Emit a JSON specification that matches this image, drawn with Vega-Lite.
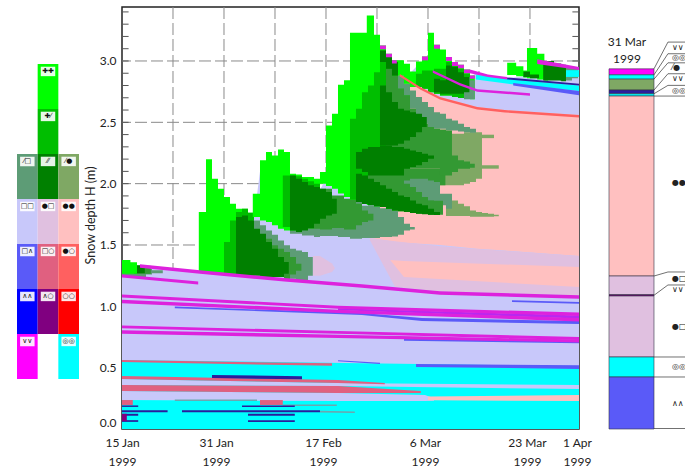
{"$schema":"https://vega.github.io/schema/vega-lite/v6.json","padding":{"left":17,"top":5,"right":0,"bottom":41},"autosize":{"type":"pad"},"bounds":"flush","spacing":0,"background":"white",
"config":{"view":{"stroke":null},"font":"Lato","text":{"font":"Lato"}},
"datasets":{
"band":[
{"s":"b01","c":"FC","d":0,"y":1.345,"v":0},{"s":"b01","c":"FC","d":3,"y":1.328,"v":0},{"s":"b01","c":"FC","d":12.8,"y":1.28,"v":0},{"s":"b01","c":"FC","d":13,"y":1.75,"v":0},{"s":"b01","c":"FC","d":20,"y":1.76,"v":0},{"s":"b01","c":"FC","d":21.5,"y":1.7,"v":0},{"s":"b01","c":"FC","d":22,"y":1.72,"v":0},{"s":"b01","c":"FC","d":23,"y":2.1,"v":0},{"s":"b01","c":"FC","d":27,"y":2.05,"v":0},{"s":"b01","c":"FC","d":33,"y":1.95,"v":0},{"s":"b01","c":"FC","d":38,"y":2.4,"v":0},{"s":"b01","c":"FC","d":45,"y":2.95,"v":0},{"s":"b01","c":"FC","d":48,"y":2.9,"v":0},{"s":"b01","c":"FC","d":49,"y":2.95,"v":0},{"s":"b01","c":"FC","d":58,"y":2.87,"v":0},{"s":"b01","c":"FC","d":59,"y":2.9,"v":0},{"s":"b01","c":"FC","d":64,"y":2.86,"v":0},{"s":"b01","c":"FC","d":66,"y":2.87,"v":0},{"s":"b01","c":"FC","d":76.2,"y":2.93,"v":0},
{"s":"b02","c":"RG","d":41.3,"y":1.557,"v":1.557},{"s":"b02","c":"RG","d":46.3,"y":2.893,"v":1.52},{"s":"b02","c":"RG","d":49.7,"y":2.787,"v":1.51},{"s":"b02","c":"RG","d":53,"y":2.706,"v":1.5},{"s":"b02","c":"RG","d":59.2,"y":2.624,"v":1.47},{"s":"b02","c":"RG","d":63.8,"y":2.6,"v":1.455},{"s":"b02","c":"RG","d":76.2,"y":2.559,"v":1.41},
{"s":"b03","c":"RC","d":41.3,"y":1.557,"v":1.54},{"s":"b03","c":"RC","d":45.5,"y":1.53,"v":1.16},{"s":"b03","c":"RC","d":53,"y":1.49,"v":1.12},{"s":"b03","c":"RC","d":76.2,"y":1.41,"v":1.09},
{"s":"b04","c":"RG","d":44.7,"y":1.377,"v":1.377},{"s":"b04","c":"RG","d":47,"y":1.37,"v":1.24},{"s":"b04","c":"RG","d":76.2,"y":1.32,"v":1.157},
{"s":"b05","c":"RC","d":31.8,"y":1.41,"v":1.25},{"s":"b05","c":"RC","d":33,"y":1.41,"v":1.25},{"s":"b05","c":"RC","d":35,"y":1.35,"v":1.28},{"s":"b05","c":"RC","d":35.5,"y":1.31,"v":1.31},
{"s":"b06","c":"MC","d":0,"y":0.562,"v":0},{"s":"b06","c":"MC","d":76.2,"y":0.513,"v":0},
{"s":"b07","c":"FC","d":0,"y":0.408,"v":0.359},{"s":"b07","c":"FC","d":36,"y":0.375,"v":0.35},{"s":"b07","c":"FC","d":76.2,"y":0.359,"v":0.326},
{"s":"b08","c":"FM","d":0,"y":0.432,"v":0.408},{"s":"b08","c":"FM","d":36,"y":0.399,"v":0.375},{"s":"b08","c":"FM","d":43.8,"y":0.375,"v":0.365},
{"s":"b09","c":"FC","d":0,"y":0.31,"v":0.236},{"s":"b09","c":"FC","d":36,"y":0.293,"v":0.228},{"s":"b09","c":"FC","d":50.5,"y":0.277,"v":0.228},{"s":"b09","c":"FC","d":52,"y":0.25,"v":0.23},
{"s":"b10","c":"FM","d":0,"y":0.359,"v":0.31},{"s":"b10","c":"FM","d":36,"y":0.35,"v":0.293},{"s":"b10","c":"FM","d":49.8,"y":0.31,"v":0.293},
{"s":"b11","c":"RG","d":51,"y":0.265,"v":0.235},{"s":"b11","c":"RG","d":76.2,"y":0.277,"v":0.228}
],
"step":[
{"s":"a1","c":"DC","d":0,"y":1.29,"v":1.24},{"s":"a1","c":"DC","d":2,"y":1.33,"v":1.24},{"s":"a1","c":"DC","d":4,"y":1.305,"v":1.26},{"s":"a1","c":"DC","d":5,"y":1.295,"v":1.27},{"s":"a1","c":"DC","d":6.8,"y":1.295,"v":1.27},
{"s":"a2","c":"D2","d":2,"y":1.33,"v":1.265},{"s":"a2","c":"D2","d":4.8,"y":1.33,"v":1.265},
{"s":"a3","c":"PP","d":0,"y":1.377,"v":1.265},{"s":"a3","c":"PP","d":1.4,"y":1.36,"v":1.265},{"s":"a3","c":"PP","d":2.5,"y":1.345,"v":1.265},
{"s":"a4","c":"DF","d":2.5,"y":1.335,"v":1.27},{"s":"a4","c":"DF","d":3.8,"y":1.335,"v":1.27},
{"s":"e1b","c":"PP","d":12.8,"y":1.768,"v":1.28},{"s":"e1b","c":"PP","d":14,"y":2.198,"v":1.275},{"s":"e1b","c":"PP","d":15,"y":2.04,"v":1.27},{"s":"e1b","c":"PP","d":16,"y":1.959,"v":1.265},{"s":"e1b","c":"PP","d":17,"y":1.891,"v":1.26},{"s":"e1b","c":"PP","d":18,"y":1.836,"v":1.26},{"s":"e1b","c":"PP","d":19,"y":1.796,"v":1.255},{"s":"e1b","c":"PP","d":20,"y":1.796,"v":1.255},{"s":"e1b","c":"PP","d":21,"y":1.763,"v":1.25},{"s":"e1b","c":"PP","d":22,"y":1.7,"v":1.25},
{"s":"e2b","c":"PD","d":17,"y":1.524,"v":1.266},{"s":"e2b","c":"PD","d":18,"y":1.7,"v":1.26},{"s":"e2b","c":"PD","d":19,"y":1.768,"v":1.26},{"s":"e2b","c":"PD","d":20,"y":1.796,"v":1.26},{"s":"e2b","c":"PD","d":21,"y":1.763,"v":1.25},{"s":"e2b","c":"PD","d":22,"y":1.673,"v":1.25},{"s":"e2b","c":"PD","d":23,"y":1.633,"v":1.25},{"s":"e2b","c":"PD","d":24,"y":1.633,"v":1.25},
{"s":"e3b","c":"DC","d":21.8,"y":1.7,"v":1.266},{"s":"e3b","c":"DC","d":23,"y":1.66,"v":1.252},{"s":"e3b","c":"DC","d":24,"y":1.619,"v":1.25},{"s":"e3b","c":"DC","d":25,"y":1.584,"v":1.24},{"s":"e3b","c":"DC","d":26,"y":1.537,"v":1.24},{"s":"e3b","c":"DC","d":27,"y":1.497,"v":1.225},{"s":"e3b","c":"DC","d":28,"y":1.47,"v":1.225},{"s":"e3b","c":"DC","d":29,"y":1.456,"v":1.211},{"s":"e3b","c":"DC","d":30,"y":1.442,"v":1.21},{"s":"e3b","c":"DC","d":31,"y":1.402,"v":1.25},{"s":"e3b","c":"DC","d":31.8,"y":1.402,"v":1.25},
{"s":"e4b","c":"D2","d":23,"y":1.578,"v":1.252},{"s":"e4b","c":"D2","d":24,"y":1.551,"v":1.25},{"s":"e4b","c":"D2","d":25,"y":1.497,"v":1.24},{"s":"e4b","c":"D2","d":26,"y":1.47,"v":1.24},{"s":"e4b","c":"D2","d":27,"y":1.442,"v":1.225},{"s":"e4b","c":"D2","d":28,"y":1.402,"v":1.26},{"s":"e4b","c":"D2","d":29,"y":1.347,"v":1.29},{"s":"e4b","c":"D2","d":29.9,"y":1.347,"v":1.29},
{"s":"e5b","c":"DF","d":19,"y":1.728,"v":1.252},{"s":"e5b","c":"DF","d":20,"y":1.741,"v":1.252},{"s":"e5b","c":"DF","d":21,"y":1.7,"v":1.252},{"s":"e5b","c":"DF","d":22,"y":1.633,"v":1.252},{"s":"e5b","c":"DF","d":23,"y":1.592,"v":1.239},{"s":"e5b","c":"DF","d":24,"y":1.524,"v":1.239},{"s":"e5b","c":"DF","d":25,"y":1.47,"v":1.239},{"s":"e5b","c":"DF","d":26,"y":1.402,"v":1.239},{"s":"e5b","c":"DF","d":27,"y":1.361,"v":1.266},{"s":"e5b","c":"DF","d":27.8,"y":1.361,"v":1.266},
{"s":"f1c","c":"PP","d":21.8,"y":1.918,"v":1.728},{"s":"f1c","c":"PP","d":23,"y":2.19,"v":1.7},{"s":"f1c","c":"PP","d":24,"y":2.258,"v":1.687},{"s":"f1c","c":"PP","d":25,"y":2.23,"v":1.66},{"s":"f1c","c":"PP","d":26,"y":2.279,"v":1.633},{"s":"f1c","c":"PP","d":27,"y":2.258,"v":1.619},{"s":"f1c","c":"PP","d":28,"y":2.081,"v":1.6},{"s":"f1c","c":"PP","d":29,"y":2.075,"v":1.6},{"s":"f1c","c":"PP","d":30,"y":2.054,"v":1.59},{"s":"f1c","c":"PP","d":31,"y":2.054,"v":1.59},{"s":"f1c","c":"PP","d":32,"y":2.04,"v":1.59},{"s":"f1c","c":"PP","d":33,"y":2.04,"v":1.59},
{"s":"f2c","c":"PD","d":26.8,"y":2.067,"v":1.646},{"s":"f2c","c":"PD","d":28,"y":2.067,"v":1.62},{"s":"f2c","c":"PD","d":29,"y":2.06,"v":1.6},{"s":"f2c","c":"PD","d":30,"y":2.04,"v":1.6},{"s":"f2c","c":"PD","d":31,"y":2.02,"v":1.6},{"s":"f2c","c":"PD","d":32,"y":2,"v":1.6},{"s":"f2c","c":"PD","d":33,"y":2,"v":1.6},
{"s":"f3c","c":"DC","d":28,"y":1.619,"v":1.592},{"s":"f3c","c":"DC","d":30,"y":1.633,"v":1.578},{"s":"f3c","c":"DC","d":32,"y":1.66,"v":1.565},{"s":"f3c","c":"DC","d":33,"y":1.7,"v":1.573},{"s":"f3c","c":"DC","d":36,"y":1.8,"v":1.565},{"s":"f3c","c":"DC","d":38,"y":1.85,"v":1.551},{"s":"f3c","c":"DC","d":40,"y":1.82,"v":1.557},{"s":"f3c","c":"DC","d":43,"y":1.8,"v":1.565},{"s":"f3c","c":"DC","d":45,"y":1.78,"v":1.57},{"s":"f3c","c":"DC","d":46,"y":1.728,"v":1.584},{"s":"f3c","c":"DC","d":47,"y":1.673,"v":1.619},{"s":"f3c","c":"DC","d":48,"y":1.646,"v":1.627},{"s":"f3c","c":"DC","d":48.8,"y":1.646,"v":1.627},
{"s":"f4c","c":"D2","d":31,"y":1.972,"v":1.633},{"s":"f4c","c":"D2","d":33,"y":1.959,"v":1.627},{"s":"f4c","c":"D2","d":35,"y":1.904,"v":1.638},{"s":"f4c","c":"D2","d":37,"y":1.877,"v":1.627},{"s":"f4c","c":"D2","d":39,"y":1.836,"v":1.66},{"s":"f4c","c":"D2","d":40,"y":1.782,"v":1.687},{"s":"f4c","c":"D2","d":41,"y":1.755,"v":1.7},{"s":"f4c","c":"D2","d":41.9,"y":1.755,"v":1.7},
{"s":"f5c","c":"DF","d":28,"y":2.067,"v":1.619},{"s":"f5c","c":"DF","d":29,"y":2.04,"v":1.605},{"s":"f5c","c":"DF","d":30,"y":2.013,"v":1.619},{"s":"f5c","c":"DF","d":31,"y":1.986,"v":1.638},{"s":"f5c","c":"DF","d":32,"y":1.972,"v":1.673},{"s":"f5c","c":"DF","d":33,"y":1.959,"v":1.714},{"s":"f5c","c":"DF","d":34,"y":1.931,"v":1.741},{"s":"f5c","c":"DF","d":35,"y":1.877,"v":1.755},{"s":"f5c","c":"DF","d":35.8,"y":1.877,"v":1.755},
{"s":"g1","c":"PP","d":33,"y":2.094,"v":1.999},{"s":"g1","c":"PP","d":34,"y":2.475,"v":1.98},{"s":"g1","c":"PP","d":35,"y":2.57,"v":1.958},{"s":"g1","c":"PP","d":36,"y":2.806,"v":1.92},{"s":"g1","c":"PP","d":37,"y":2.842,"v":1.891},{"s":"g1","c":"PP","d":38,"y":3.23,"v":1.87},{"s":"g1","c":"PP","d":39,"y":3.23,"v":1.85},{"s":"g1","c":"PP","d":40,"y":3.23,"v":1.835},{"s":"g1","c":"PP","d":40.8,"y":3.371,"v":1.825},{"s":"g1","c":"PP","d":42,"y":3.214,"v":1.815},{"s":"g1","c":"PP","d":43,"y":3.127,"v":1.809},{"s":"g1","c":"PP","d":44,"y":3.059,"v":1.795},{"s":"g1","c":"PP","d":45,"y":3.005,"v":1.782},{"s":"g1","c":"PP","d":46,"y":3.005,"v":1.782},
{"s":"g2","c":"PD","d":38,"y":2.529,"v":1.87},{"s":"g2","c":"PD","d":39,"y":2.611,"v":1.85},{"s":"g2","c":"PD","d":40,"y":2.746,"v":1.835},{"s":"g2","c":"PD","d":41,"y":2.8,"v":1.825},{"s":"g2","c":"PD","d":42,"y":2.909,"v":1.815},{"s":"g2","c":"PD","d":43,"y":3.086,"v":1.809},{"s":"g2","c":"PD","d":44,"y":3.05,"v":1.795},{"s":"g2","c":"PD","d":45,"y":2.99,"v":1.782},{"s":"g2","c":"PD","d":46,"y":2.882,"v":1.775},{"s":"g2","c":"PD","d":47,"y":2.814,"v":1.768},{"s":"g2","c":"PD","d":48,"y":2.814,"v":1.768},
{"s":"g3","c":"DR","d":53,"y":2.149,"v":1.986},{"s":"g3","c":"DR","d":54,"y":2.149,"v":1.986},{"s":"g3","c":"DR","d":55,"y":2.407,"v":1.986},{"s":"g3","c":"DR","d":56,"y":2.407,"v":1.986},{"s":"g3","c":"DR","d":57,"y":2.42,"v":1.999},{"s":"g3","c":"DR","d":58,"y":2.42,"v":2.013},{"s":"g3","c":"DR","d":59,"y":2.42,"v":2.04},{"s":"g3","c":"DR","d":60,"y":2.42,"v":2.04},
{"s":"g4","c":"DR","d":59.5,"y":2.399,"v":2.371},{"s":"g4","c":"DR","d":62,"y":2.399,"v":2.371},
{"s":"g5","c":"DR","d":59.5,"y":2.15,"v":2.122},{"s":"g5","c":"DR","d":62.8,"y":2.15,"v":2.122},
{"s":"g6","c":"DR","d":54,"y":1.891,"v":1.736},{"s":"g6","c":"DR","d":55,"y":1.863,"v":1.736},{"s":"g6","c":"DR","d":56,"y":1.836,"v":1.736},{"s":"g6","c":"DR","d":57,"y":1.815,"v":1.736},{"s":"g6","c":"DR","d":58,"y":1.782,"v":1.73},{"s":"g6","c":"DR","d":59,"y":1.768,"v":1.73},{"s":"g6","c":"DR","d":60,"y":1.76,"v":1.73},{"s":"g6","c":"DR","d":61,"y":1.755,"v":1.73},{"s":"g6","c":"DR","d":62,"y":1.746,"v":1.735},{"s":"g6","c":"DR","d":62.8,"y":1.746,"v":1.735},
{"s":"g7","c":"DC","d":46,"y":2.882,"v":2.774},{"s":"g7","c":"DC","d":47,"y":2.814,"v":2.719},{"s":"g7","c":"DC","d":48,"y":2.76,"v":2.611},{"s":"g7","c":"DC","d":49,"y":2.706,"v":2.502},{"s":"g7","c":"DC","d":50,"y":2.665,"v":2.488},{"s":"g7","c":"DC","d":51,"y":2.624,"v":2.461},{"s":"g7","c":"DC","d":52,"y":2.583,"v":2.448},{"s":"g7","c":"DC","d":53,"y":2.57,"v":2.448},{"s":"g7","c":"DC","d":54,"y":2.529,"v":2.434},{"s":"g7","c":"DC","d":55,"y":2.515,"v":2.434},{"s":"g7","c":"DC","d":56,"y":2.488,"v":2.426},{"s":"g7","c":"DC","d":57,"y":2.461,"v":2.42},{"s":"g7","c":"DC","d":58,"y":2.448,"v":2.415},{"s":"g7","c":"DC","d":59,"y":2.448,"v":2.415},
{"s":"g8","c":"D2","d":41,"y":2.094,"v":1.823},{"s":"g8","c":"D2","d":43,"y":2.122,"v":1.809},{"s":"g8","c":"D2","d":45,"y":2.122,"v":1.782},{"s":"g8","c":"D2","d":47,"y":2.122,"v":1.768},{"s":"g8","c":"D2","d":49,"y":2.122,"v":1.755},{"s":"g8","c":"D2","d":51,"y":2.122,"v":1.746},{"s":"g8","c":"D2","d":53,"y":2.1,"v":1.986},{"s":"g8","c":"D2","d":53.9,"y":2.1,"v":1.986},
{"s":"g9","c":"D2","d":44,"y":2.937,"v":2.122},{"s":"g9","c":"D2","d":45,"y":2.882,"v":2.122},{"s":"g9","c":"D2","d":46,"y":2.774,"v":2.122},{"s":"g9","c":"D2","d":47,"y":2.719,"v":2.122},{"s":"g9","c":"D2","d":48,"y":2.611,"v":2.122},{"s":"g9","c":"D2","d":49,"y":2.515,"v":2.122},{"s":"g9","c":"D2","d":50,"y":2.488,"v":2.122},{"s":"g9","c":"D2","d":51,"y":2.461,"v":2.122},{"s":"g9","c":"D2","d":52,"y":2.448,"v":2.122},{"s":"g9","c":"D2","d":53,"y":2.442,"v":2.067},{"s":"g9","c":"D2","d":54,"y":2.434,"v":2.067},{"s":"g9","c":"D2","d":55,"y":2.23,"v":2.094},{"s":"g9","c":"D2","d":56,"y":2.19,"v":2.122},{"s":"g9","c":"D2","d":57,"y":2.18,"v":2.122},{"s":"g9","c":"D2","d":58,"y":2.162,"v":2.13},{"s":"g9","c":"D2","d":58.8,"y":2.162,"v":2.13},
{"s":"h1","c":"DC","d":47,"y":2.026,"v":1.999},{"s":"h1","c":"DC","d":48,"y":2.04,"v":1.972},{"s":"h1","c":"DC","d":49,"y":2.04,"v":1.931},{"s":"h1","c":"DC","d":50,"y":2.04,"v":1.891},{"s":"h1","c":"DC","d":51,"y":2.026,"v":1.863},{"s":"h1","c":"DC","d":52,"y":2.013,"v":1.836},{"s":"h1","c":"DC","d":53,"y":1.918,"v":1.823},{"s":"h1","c":"DC","d":54,"y":1.918,"v":1.795},{"s":"h1","c":"DC","d":55,"y":1.918,"v":1.795},
{"s":"h2","c":"D2","d":51,"y":1.86,"v":1.746},{"s":"h2","c":"D2","d":53.5,"y":1.82,"v":1.741},
{"s":"h3","c":"DF","d":43,"y":2.8,"v":2.312},{"s":"h3","c":"DF","d":44,"y":2.746,"v":2.312},{"s":"h3","c":"DF","d":45,"y":2.665,"v":2.312},{"s":"h3","c":"DF","d":46,"y":2.611,"v":2.325},{"s":"h3","c":"DF","d":47,"y":2.597,"v":2.352},{"s":"h3","c":"DF","d":48,"y":2.583,"v":2.38},{"s":"h3","c":"DF","d":49,"y":2.57,"v":2.42},{"s":"h3","c":"DF","d":50,"y":2.543,"v":2.461},{"s":"h3","c":"DF","d":50.8,"y":2.543,"v":2.461},
{"s":"h4","c":"DF","d":43,"y":3.086,"v":2.991},{"s":"h4","c":"DF","d":44,"y":3.045,"v":2.937},{"s":"h4","c":"DF","d":45,"y":2.991,"v":2.882},{"s":"h4","c":"DF","d":46,"y":2.991,"v":2.882},
{"s":"h5","c":"DF","d":39,"y":2.257,"v":2.122},{"s":"h5","c":"DF","d":40,"y":2.285,"v":2.094},{"s":"h5","c":"DF","d":41,"y":2.298,"v":2.067},{"s":"h5","c":"DF","d":43,"y":2.312,"v":2.067},{"s":"h5","c":"DF","d":45,"y":2.298,"v":2.067},{"s":"h5","c":"DF","d":47,"y":2.285,"v":2.122},{"s":"h5","c":"DF","d":48,"y":2.271,"v":2.135},{"s":"h5","c":"DF","d":49,"y":2.257,"v":2.149},{"s":"h5","c":"DF","d":50,"y":2.244,"v":2.176},{"s":"h5","c":"DF","d":51,"y":2.23,"v":2.203},{"s":"h5","c":"DF","d":52,"y":2.23,"v":2.203},
{"s":"h6","c":"DF","d":39,"y":2.08,"v":1.85},{"s":"h6","c":"DF","d":40,"y":2.067,"v":1.835},{"s":"h6","c":"DF","d":41,"y":2.04,"v":1.823},{"s":"h6","c":"DF","d":42,"y":2.013,"v":1.815},{"s":"h6","c":"DF","d":43,"y":1.986,"v":1.809},{"s":"h6","c":"DF","d":44,"y":1.958,"v":1.795},{"s":"h6","c":"DF","d":45,"y":1.931,"v":1.782},{"s":"h6","c":"DF","d":46,"y":1.904,"v":1.775},{"s":"h6","c":"DF","d":47,"y":1.891,"v":1.768},{"s":"h6","c":"DF","d":48,"y":1.863,"v":1.76},{"s":"h6","c":"DF","d":49,"y":1.836,"v":1.755},{"s":"h6","c":"DF","d":50,"y":1.823,"v":1.75},{"s":"h6","c":"DF","d":51,"y":1.795,"v":1.746},{"s":"h6","c":"DF","d":52,"y":1.768,"v":1.744},{"s":"h6","c":"DF","d":53,"y":1.768,"v":1.744},
{"s":"i1","c":"PP","d":46,"y":3.005,"v":2.882},{"s":"i1","c":"PP","d":47,"y":2.977,"v":2.814},{"s":"i1","c":"PP","d":48,"y":2.915,"v":2.787},{"s":"i1","c":"PP","d":49,"y":2.996,"v":2.787},{"s":"i1","c":"PP","d":50,"y":3.037,"v":2.774},{"s":"i1","c":"PP","d":51,"y":3.23,"v":2.746},{"s":"i1","c":"PP","d":52,"y":3.132,"v":2.733},{"s":"i1","c":"PP","d":53,"y":3.094,"v":2.719},{"s":"i1","c":"PP","d":54,"y":3.032,"v":2.719},{"s":"i1","c":"PP","d":55,"y":2.991,"v":2.706},{"s":"i1","c":"PP","d":56,"y":2.969,"v":2.698},{"s":"i1","c":"PP","d":57,"y":2.931,"v":2.692},{"s":"i1","c":"PP","d":58,"y":2.882,"v":2.687},{"s":"i1","c":"PP","d":58.8,"y":2.882,"v":2.687},
{"s":"i2","c":"PD","d":49,"y":2.896,"v":2.787},{"s":"i2","c":"PD","d":50,"y":2.923,"v":2.774},{"s":"i2","c":"PD","d":51,"y":2.923,"v":2.746},{"s":"i2","c":"PD","d":52,"y":2.937,"v":2.733},{"s":"i2","c":"PD","d":53,"y":2.937,"v":2.719},{"s":"i2","c":"PD","d":54,"y":2.991,"v":2.719},{"s":"i2","c":"PD","d":55,"y":2.964,"v":2.706},{"s":"i2","c":"PD","d":56,"y":2.937,"v":2.698},{"s":"i2","c":"PD","d":57,"y":2.896,"v":2.692},{"s":"i2","c":"PD","d":58,"y":2.896,"v":2.692},
{"s":"i3","c":"DC","d":57,"y":2.869,"v":2.687},{"s":"i3","c":"DC","d":58,"y":2.842,"v":2.687},{"s":"i3","c":"DC","d":58.8,"y":2.842,"v":2.687},
{"s":"i4","c":"DF","d":52,"y":2.855,"v":2.746},{"s":"i4","c":"DF","d":53,"y":2.842,"v":2.733},{"s":"i4","c":"DF","d":54,"y":2.964,"v":2.733},{"s":"i4","c":"DF","d":55,"y":2.95,"v":2.733},{"s":"i4","c":"DF","d":56,"y":2.909,"v":2.733},{"s":"i4","c":"DF","d":57,"y":2.869,"v":2.746},{"s":"i4","c":"DF","d":57.9,"y":2.869,"v":2.746},
{"s":"j1","c":"PP","d":64.2,"y":2.985,"v":2.885},{"s":"j1","c":"PP","d":65.7,"y":2.956,"v":2.875},{"s":"j1","c":"PP","d":66.9,"y":2.923,"v":2.865},{"s":"j1","c":"PP","d":67.5,"y":3.105,"v":2.86},{"s":"j1","c":"PP","d":69.2,"y":3.059,"v":2.85},{"s":"j1","c":"PP","d":70.4,"y":3,"v":2.84},{"s":"j1","c":"PP","d":71,"y":3,"v":2.84},
{"s":"j2","c":"DC","d":73,"y":2.96,"v":2.84},{"s":"j2","c":"DC","d":75,"y":2.94,"v":2.86},{"s":"j2","c":"DC","d":76,"y":2.94,"v":2.86},
{"s":"j3","c":"DF","d":66.9,"y":2.915,"v":2.87},{"s":"j3","c":"DF","d":68,"y":2.89,"v":2.86},{"s":"j3","c":"DF","d":69.5,"y":2.89,"v":2.85},
{"s":"j4","c":"DF","d":70.2,"y":3,"v":2.84},{"s":"j4","c":"DF","d":72,"y":2.98,"v":2.84},{"s":"j4","c":"DF","d":73.2,"y":2.97,"v":2.835},{"s":"j4","c":"DF","d":74,"y":2.97,"v":2.835},
{"s":"k1","c":"SL","d":43,"y":3.127,"v":3.095},{"s":"k1","c":"SL","d":44,"y":3.059,"v":3.03},{"s":"k1","c":"SL","d":45,"y":3.005,"v":2.98},{"s":"k1","c":"SL","d":45.8,"y":3.005,"v":2.98},
{"s":"k2","c":"SL","d":50,"y":3.037,"v":3.005},{"s":"k2","c":"SL","d":51,"y":3.037,"v":3.005},
{"s":"k3","c":"SL","d":52,"y":3.132,"v":3.1},{"s":"k3","c":"SL","d":53,"y":3.132,"v":3.1},
{"s":"k4","c":"SL","d":54,"y":3.032,"v":3},{"s":"k4","c":"SL","d":55,"y":2.991,"v":2.96},{"s":"k4","c":"SL","d":56,"y":2.969,"v":2.94},{"s":"k4","c":"SL","d":57,"y":2.931,"v":2.9},{"s":"k4","c":"SL","d":58,"y":2.882,"v":2.855},{"s":"k4","c":"SL","d":58.8,"y":2.882,"v":2.855},
{"s":"k5","c":"MC","d":74,"y":2.925,"v":2.87},{"s":"k5","c":"MC","d":76.2,"y":2.925,"v":2.87}
],
"line":[
{"s":"l01","c":"RM","d":46.3,"y":2.893,"v":2.873},{"s":"l01","c":"RM","d":49.7,"y":2.787,"v":2.767},{"s":"l01","c":"RM","d":53,"y":2.706,"v":2.686},{"s":"l01","c":"RM","d":59.2,"y":2.624,"v":2.604},{"s":"l01","c":"RM","d":63.8,"y":2.6,"v":2.58},{"s":"l01","c":"RM","d":76.2,"y":2.559,"v":2.539},
{"s":"l02","c":"SL","d":51.8,"y":2.925,"v":2.905},{"s":"l02","c":"SL","d":56.3,"y":2.82,"v":2.8},{"s":"l02","c":"SL","d":59.2,"y":2.77,"v":2.75},{"s":"l02","c":"SL","d":68,"y":2.737,"v":2.717},
{"s":"l03","c":"MC","d":59,"y":2.89,"v":2.85},{"s":"l03","c":"MC","d":65,"y":2.85,"v":2.81},{"s":"l03","c":"MC","d":76.2,"y":2.8,"v":2.755},
{"s":"l04","c":"SL","d":58,"y":2.93,"v":2.9},{"s":"l04","c":"SL","d":61,"y":2.89,"v":2.87},{"s":"l04","c":"SL","d":64.2,"y":2.87,"v":2.85},
{"s":"l05","c":"FH","d":65.2,"y":2.82,"v":2.8},{"s":"l05","c":"FH","d":76.2,"y":2.755,"v":2.72},
{"s":"l06","c":"DK","d":64.2,"y":2.865,"v":2.85},{"s":"l06","c":"DK","d":76.2,"y":2.815,"v":2.8},
{"s":"l07","c":"SL","d":69.2,"y":3.015,"v":2.975},{"s":"l07","c":"SL","d":76.2,"y":2.95,"v":2.926},
{"s":"m01","c":"FH","d":8.8,"y":0.998,"v":0.985},{"s":"m01","c":"FH","d":40,"y":0.945,"v":0.93},{"s":"m01","c":"FH","d":50,"y":0.905,"v":0.88},{"s":"m01","c":"FH","d":76.2,"y":0.88,"v":0.855},
{"s":"m02","c":"SP","d":36,"y":0.985,"v":0.968},{"s":"m02","c":"SP","d":76.2,"y":0.925,"v":0.9},
{"s":"m03","c":"SL","d":0,"y":1.096,"v":1.071},{"s":"m03","c":"SL","d":36,"y":1.004,"v":0.981},{"s":"m03","c":"SL","d":76.2,"y":0.949,"v":0.921},
{"s":"m04","c":"SL","d":0,"y":1.054,"v":1.026},{"s":"m04","c":"SL","d":36,"y":0.972,"v":0.946},{"s":"m04","c":"SL","d":76.2,"y":0.904,"v":0.876},
{"s":"m05","c":"SL","d":3,"y":1.342,"v":1.314},{"s":"m05","c":"SL","d":13,"y":1.294,"v":1.266},{"s":"m05","c":"SL","d":27.5,"y":1.228,"v":1.2},{"s":"m05","c":"SL","d":40,"y":1.179,"v":1.151},{"s":"m05","c":"SL","d":53,"y":1.122,"v":1.094},{"s":"m05","c":"SL","d":76.2,"y":1.09,"v":1.062},
{"s":"m06","c":"SL","d":0,"y":1.259,"v":1.234},{"s":"m06","c":"SL","d":12.7,"y":1.202,"v":1.177},
{"s":"m07","c":"FH","d":65,"y":1.05,"v":1.035},{"s":"m07","c":"FH","d":76.2,"y":1.035,"v":1.02},
{"s":"m08","c":"FH","d":47,"y":0.735,"v":0.72},{"s":"m08","c":"FH","d":76.2,"y":0.72,"v":0.7},
{"s":"m09","c":"SL","d":0,"y":0.844,"v":0.821},{"s":"m09","c":"SL","d":36,"y":0.799,"v":0.776},{"s":"m09","c":"SL","d":76.2,"y":0.749,"v":0.726},
{"s":"m10","c":"SL","d":0,"y":0.804,"v":0.776},{"s":"m10","c":"SL","d":36,"y":0.769,"v":0.741},{"s":"m10","c":"SL","d":76.2,"y":0.729,"v":0.706},
{"s":"m11","c":"FM","d":0,"y":0.562,"v":0.546},{"s":"m11","c":"FM","d":35,"y":0.535,"v":0.515},
{"s":"m12","c":"FH","d":36,"y":0.56,"v":0.552},{"s":"m12","c":"FH","d":43,"y":0.54,"v":0.53},
{"s":"m13","c":"FH","d":49,"y":0.53,"v":0.505},{"s":"m13","c":"FH","d":76.2,"y":0.52,"v":0.49},
{"s":"m14","c":"DK","d":15,"y":0.44,"v":0.415},{"s":"m14","c":"DK","d":30,"y":0.43,"v":0.405},
{"s":"n01","c":"FM","d":0,"y":0.236,"v":0.196},{"s":"n01","c":"FM","d":1.8,"y":0.236,"v":0.196},
{"s":"n02","c":"FM","d":23,"y":0.236,"v":0.196},{"s":"n02","c":"FM","d":26.8,"y":0.236,"v":0.196},
{"s":"n03","c":"GT","d":8.8,"y":0.24,"v":0.228},{"s":"n03","c":"GT","d":22.5,"y":0.24,"v":0.228},
{"s":"n04","c":"GT","d":26.8,"y":0.2,"v":0.188},{"s":"n04","c":"GT","d":35.8,"y":0.2,"v":0.188},
{"s":"n05","c":"DK","d":0,"y":0.192,"v":0.18},{"s":"n05","c":"DK","d":2.7,"y":0.192,"v":0.18},
{"s":"n06","c":"DK","d":20,"y":0.192,"v":0.18},{"s":"n06","c":"DK","d":28.8,"y":0.192,"v":0.18},
{"s":"n07","c":"DK","d":0,"y":0.152,"v":0.136},{"s":"n07","c":"DK","d":7.6,"y":0.152,"v":0.136},
{"s":"n08","c":"DK","d":10,"y":0.152,"v":0.136},{"s":"n08","c":"DK","d":33,"y":0.152,"v":0.136},
{"s":"n09","c":"GT","d":33,"y":0.148,"v":0.134},{"s":"n09","c":"GT","d":38.8,"y":0.142,"v":0.13},
{"s":"n10","c":"DK","d":0,"y":0.124,"v":0.108},{"s":"n10","c":"DK","d":2.7,"y":0.124,"v":0.108},
{"s":"n11","c":"DK","d":21,"y":0.124,"v":0.108},{"s":"n11","c":"DK","d":28.8,"y":0.124,"v":0.108},
{"s":"n12","c":"DK","d":0,"y":0.072,"v":0.058},{"s":"n12","c":"DK","d":2.7,"y":0.072,"v":0.058},
{"s":"n13","c":"DK","d":21,"y":0.072,"v":0.058},{"s":"n13","c":"DK","d":28.8,"y":0.072,"v":0.058},
{"s":"n14","c":"HM","d":0,"y":0.124,"v":0.064},{"s":"n14","c":"HM","d":0.8,"y":0.124,"v":0.064}
],
"ticks":[{"y":2.5},{"y":2.6},{"y":2.7},{"y":2.8},{"y":2.9},{"y":3},{"y":3.1},{"y":3.2},{"y":3.3},{"y":3.4},{"y":2.4},{"y":2.3},{"y":2.2},{"y":2.1},{"y":2},{"y":1.9},{"y":1.8},{"y":1.7},{"y":1.6},{"y":1.5}]
},
"hconcat":[
{"width":62,"height":422,"data":{"values":[
{"c":"PP","a":1,"b":0,"t":"✚✚"},{"c":"PD","a":1,"b":1,"t":"✚⁄"},
{"c":"DC","a":0,"b":2,"t":"⁄□"},{"c":"DF","a":1,"b":2,"t":"⁄⁄"},{"c":"DR","a":2,"b":2,"t":"⁄●"},
{"c":"FC","a":0,"b":3,"t":"□□"},{"c":"RC","a":1,"b":3,"t":"●□"},{"c":"RG","a":2,"b":3,"t":"●●"},
{"c":"FH","a":0,"b":4,"t":"□∧"},{"c":"FM","a":1,"b":4,"t":"□○"},{"c":"RM","a":2,"b":4,"t":"●○"},
{"c":"DH","a":0,"b":5,"t":"∧∧"},{"c":"HM","a":1,"b":5,"t":"∧○"},{"c":"MM","a":2,"b":5,"t":"○○"},
{"c":"SH","a":0,"b":6,"t":"∨∨"},{"c":"MC","a":2,"b":6,"t":"◎◎"}]},
"transform":[{"calculate":"datum.a+1","as":"a2"},{"calculate":"datum.b+1","as":"b2"},{"calculate":"datum.a+0.15","as":"p0"},{"calculate":"datum.a+0.85","as":"p1"},{"calculate":"datum.b+0.06","as":"q0"},{"calculate":"datum.b+0.27","as":"q1"},{"calculate":"datum.a+0.5","as":"pm"},{"calculate":"datum.b+0.165","as":"qm"}],
"layer":[
{"mark":{"type":"rect"},"encoding":{"x":{"field":"a","type":"quantitative","scale":{"domain":[0,3]},"axis":null},"x2":{"field":"a2"},"y":{"field":"b","type":"quantitative","scale":{"domain":[8.111,-1.267],"nice":false,"zero":false},"axis":null},"y2":{"field":"b2"},"color":{"field":"c","type":"nominal","legend":null,"scale":{"domain":["PP","PD","DC","DF","DR","FC","RC","RG","FH","FM","RM","DH","HM","MM","SH","MC","D2","SL","SP","DK","GT"],"range":["#00FF00","#00BE00","#5D9C76","#008000","#7FA864","#C8C8FA","#E0C0E0","#FFC0C0","#5A5AF8","#E06080","#FF6060","#0000FF","#800080","#FF0000","#FF00FF","#00FFFF","#339933","#DD22DD","#B828F0","#2A1E9C","#6AA8B0"]}}}},
{"mark":{"type":"rect","color":"white","opacity":0.9},"encoding":{"x":{"field":"p0","type":"quantitative","axis":null},"x2":{"field":"p1"},"y":{"field":"q0","type":"quantitative","axis":null},"y2":{"field":"q1"}}},
{"mark":{"type":"text","font":"DejaVu Sans","fontSize":7,"color":"#111"},"encoding":{"x":{"field":"pm","type":"quantitative","axis":null},"y":{"field":"qm","type":"quantitative","axis":null},"text":{"field":"t"}}}
]},
{"width":43,"height":422,"mark":{"type":"rule","opacity":0},"encoding":{}},
{"width":457,"height":422,"view":{"stroke":"#222","strokeWidth":1.5},
"resolve":{"axis":{"x":"independent","y":"independent"}},
"layer":[
{"data":{"values":[{"g":8.5},{"g":17},{"g":25.5},{"g":34},{"g":42.5},{"g":51},{"g":59.5},{"g":68}]},"mark":{"type":"rule","color":"#8a8a8a","strokeDash":[12,4],"strokeWidth":1},"encoding":{"x":{"field":"g","type":"quantitative","scale":{"domain":[0,76.17],"nice":false,"zero":false},"axis":null}}},
{"data":{"values":[{"h":0.5},{"h":1},{"h":1.5},{"h":2},{"h":2.5},{"h":3}]},"mark":{"type":"rule","color":"#8a8a8a","strokeDash":[12,4],"strokeWidth":1},"encoding":{"y":{"field":"h","type":"quantitative","scale":{"domain":[0,3.44],"nice":false,"zero":false},"axis":null}}},
{"data":{"name":"ticks"},"transform":[{"calculate":"0","as":"a"},{"calculate":"1.1","as":"b"}],"mark":{"type":"rule","color":"#555"},"encoding":{"x":{"field":"a","type":"quantitative","axis":null},"x2":{"field":"b"},"y":{"field":"y","type":"quantitative","axis":null}}},
{"data":{"name":"ticks"},"transform":[{"calculate":"75.07","as":"a"},{"calculate":"76.17","as":"b"}],"mark":{"type":"rule","color":"#555"},"encoding":{"x":{"field":"a","type":"quantitative","axis":null},"x2":{"field":"b"},"y":{"field":"y","type":"quantitative","axis":null}}},
{"data":{"name":"band"},"mark":{"type":"area","orient":"vertical","interpolate":"linear","clip":true},
"encoding":{"x":{"field":"d","type":"quantitative","axis":{"values":[0,15.67,33.5,50.5,67.5,75.83],"title":null,"grid":false,"ticks":false,"domain":false,"labelFontSize":12,"labelColor":"#222","labelPadding":8,"labelLineHeight":19,"labelOverlap":false,"labelBound":false,"labelFlush":false,"labelExpr":"datum.value<1?['15 Jan','1999']:datum.value<20?['31 Jan','1999']:datum.value<40?['17 Feb','1999']:datum.value<60?['6 Mar','1999']:datum.value<70?['23 Mar','1999']:['1 Apr','1999']"}},
"y":{"field":"y","type":"quantitative","stack":null,"scale":{"domain":[0,3.44],"nice":false,"zero":false},"axis":{"orient":"left","values":[0,0.5,1,1.5,2,2.5,3],"grid":false,"ticks":false,"domain":false,"labelOverlap":false,"labelFlush":true,"labelBound":false,"labelPadding":6,"labelFontSize":12,"labelColor":"#222","format":".1f","title":"Snow depth H (m)","titleFontSize":12.5,"titleFontWeight":"normal","titleColor":"#222","titleX":-25,"titleY":208}},
"y2":{"field":"v"},"detail":{"field":"s"},
"color":{"field":"c","type":"nominal","legend":null}}},
{"data":{"name":"step"},"mark":{"type":"area","orient":"vertical","interpolate":"step-after","clip":true},
"encoding":{"x":{"field":"d","type":"quantitative","axis":null},"y":{"field":"y","type":"quantitative","stack":null,"axis":null},"y2":{"field":"v"},"detail":{"field":"s"},"color":{"field":"c","type":"nominal","legend":null}}},
{"data":{"name":"line"},"mark":{"type":"area","orient":"vertical","interpolate":"linear","clip":true},
"encoding":{"x":{"field":"d","type":"quantitative","axis":null},"y":{"field":"y","type":"quantitative","stack":null,"axis":null},"y2":{"field":"v"},"detail":{"field":"s"},"color":{"field":"c","type":"nominal","legend":null}}}
]},
{"width":30,"height":422,"mark":{"type":"rule","opacity":0},"encoding":{}},
{"width":76,"height":422,
"layer":[
{"data":{"values":[{"c":"SH","t":2.936,"b":2.887},{"c":"MC","t":2.887,"b":2.852},{"c":"DR","t":2.852,"b":2.763},{"c":"DK","t":2.763,"b":2.733},{"c":"MC","t":2.733,"b":2.714},{"c":"RG","t":2.714,"b":1.247},{"c":"RC","t":1.247,"b":1.095},{"c":"HM","t":1.095,"b":1.084},{"c":"RC","t":1.084,"b":0.587},{"c":"MC","t":0.587,"b":0.424},{"c":"FH","t":0.424,"b":0}]},
"transform":[{"calculate":"0","as":"x0"},{"calculate":"1","as":"x1"}],
"mark":{"type":"rect","stroke":"#334","strokeWidth":0.6},
"encoding":{"x":{"field":"x0","type":"quantitative","scale":{"domain":[0,1.689],"nice":false,"zero":false},"axis":null},"x2":{"field":"x1"},"y":{"field":"t","type":"quantitative","scale":{"domain":[0,3.44],"nice":false,"zero":false},"axis":null},"y2":{"field":"b"},"color":{"field":"c","type":"nominal","legend":null}}},
{"data":{"values":[
{"l":1,"x":1,"y":2.936},{"l":1,"x":1.31,"y":3.154},{"l":1,"x":1.69,"y":3.154},
{"l":2,"x":1,"y":2.887},{"l":2,"x":1.31,"y":3.059},{"l":2,"x":1.69,"y":3.059},
{"l":3,"x":1,"y":2.852},{"l":3,"x":1.31,"y":2.985},{"l":3,"x":1.69,"y":2.985},
{"l":4,"x":1,"y":2.763},{"l":4,"x":1.31,"y":2.896},{"l":4,"x":1.69,"y":2.896},
{"l":5,"x":1,"y":2.733},{"l":5,"x":1.31,"y":2.801},{"l":5,"x":1.69,"y":2.801},
{"l":6,"x":1,"y":2.714},{"l":6,"x":1.69,"y":2.714},
{"l":7,"x":1,"y":1.247},{"l":7,"x":1.31,"y":1.28},{"l":7,"x":1.69,"y":1.28},
{"l":8,"x":1,"y":1.09},{"l":8,"x":1.31,"y":1.174},{"l":8,"x":1.69,"y":1.174},
{"l":9,"x":1,"y":0.587},{"l":9,"x":1.69,"y":0.587},
{"l":10,"x":1,"y":0.424},{"l":10,"x":1.69,"y":0.424},
{"l":11,"x":1,"y":0.004},{"l":11,"x":1.69,"y":0.004}]},
"mark":{"type":"line","color":"#333","strokeWidth":0.7},
"encoding":{"x":{"field":"x","type":"quantitative","axis":null},"y":{"field":"y","type":"quantitative","axis":null},"detail":{"field":"l"},"order":{"field":"x"}}},
{"data":{"values":[{"x":1.4,"y":3.105,"t":"∨∨"},{"x":1.4,"y":3.024,"t":"◎◎"},{"x":1.4,"y":2.942,"t":"⁄●"},{"x":1.4,"y":2.852,"t":"∨∨"},{"x":1.4,"y":2.755,"t":"◎◎"},{"x":1.4,"y":2.007,"t":"●●"},{"x":1.4,"y":1.225,"t":"●□"},{"x":1.4,"y":1.13,"t":"∨∨"},{"x":1.4,"y":0.83,"t":"●□"},{"x":1.4,"y":0.505,"t":"◎◎"},{"x":1.4,"y":0.206,"t":"∧∧"}]},
"mark":{"type":"text","font":"DejaVu Sans","fontSize":8,"align":"left","color":"#222"},
"encoding":{"x":{"field":"x","type":"quantitative","axis":null},"y":{"field":"y","type":"quantitative","axis":null},"text":{"field":"t"}}},
{"data":{"values":[{"x":0.4,"y":3.154,"t":"31 Mar"},{"x":0.4,"y":3.015,"t":"1999"}]},
"mark":{"type":"text","font":"Lato","fontSize":12,"color":"#222"},
"encoding":{"x":{"field":"x","type":"quantitative","axis":null},"y":{"field":"y","type":"quantitative","axis":null},"text":{"field":"t"}}}
]}
]}
